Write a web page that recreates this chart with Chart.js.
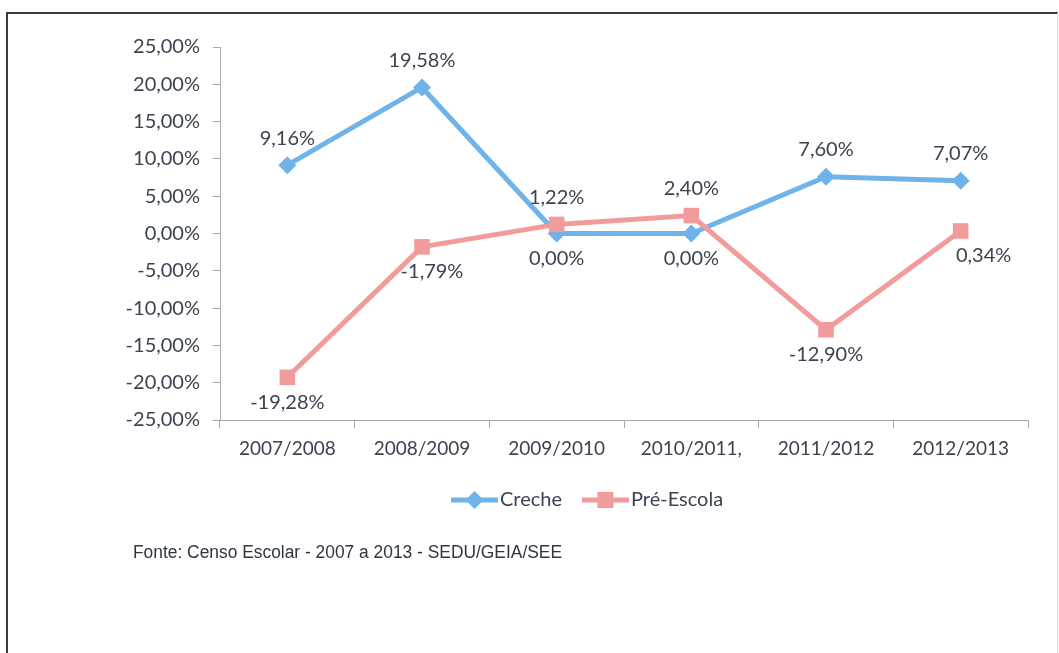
<!DOCTYPE html>
<html>
<head>
<meta charset="utf-8">
<script src="https://cdn.jsdelivr.net/npm/chart.js@4/dist/chart.umd.min.js"></script>
<style>
  html, body { margin: 0; padding: 0; background: #fff; }
  #wrap { position: relative; width: 1059px; height: 653px; overflow: hidden; }
  #chart { position: absolute; left: 0; top: 0; }
  #frame { position: absolute; left: 6px; top: 12px; width: 1049px; height: 700px;
           border-top: 2px solid #3a3a3a; border-left: 2px solid #3a3a3a; border-right: 1px solid #d8d8d8;
           pointer-events: none; }
</style>
</head>
<body>
<div id="wrap">
  <canvas id="chart" width="1059" height="653"></canvas>
  <div id="frame"></div>
</div>
<script>
/* Creche / Pré-Escola growth rates, 2007-2013 */
const categories = ['2007/2008','2008/2009','2009/2010','2010/2011,','2011/2012','2012/2013'];
const creche = [9.16, 19.58, 0.00, 0.00, 7.60, 7.07];
const preEscola = [-19.28, -1.79, 1.22, 2.40, -12.90, 0.34];
const yMin = -25, yMax = 25, yStep = 5;
const seriesNames = ['Creche', 'Pré-Escola'];
const sourceNote = 'Fonte: Censo Escolar - 2007 a 2013 - SEDU/GEIA/SEE';

const BLUE = '#6fb3e9';
const PINK = '#f19b9b';
const TXT = '#3b4350';
const AXIS = '#a8a8a8';
const FONT = 'Lato';

function pct(v){ return v.toFixed(2).replace('.', ',') + '%'; }

// where each value label sits relative to its point
const labelPlace = {
  0: ['up','up','down','down','up','up'],
  1: ['down','down','up','up','down','down']
};
const labelShift = { 1: { 1: 10, 5: 23 } };

const valueLabels = {
  id: 'valueLabels',
  afterDatasetsDraw(chart){
    const c = chart.ctx;
    c.save();
    c.font = '20px ' + FONT;
    c.fillStyle = TXT;
    c.textAlign = 'center';
    c.textBaseline = 'middle';
    chart.data.datasets.forEach((ds, di)=>{
      const meta = chart.getDatasetMeta(di);
      meta.data.forEach((pt, i)=>{
        const up = labelPlace[di][i] === 'up';
        const dx = (labelShift[di] && labelShift[di][i]) || 0;
        c.fillText(pct(ds.data[i]), pt.x + dx, pt.y + (up ? -27 : 25));
      });
    });
    c.restore();
  }
};

const legendAndNote = {
  id: 'legendAndNote',
  afterDraw(chart){
    const c = chart.ctx;
    c.save();
    const items = [
      { name: seriesNames[0], color: BLUE, style: 'diamond', x: 451 },
      { name: seriesNames[1], color: PINK, style: 'square', x: 582 }
    ];
    const y = 500;
    items.forEach(it=>{
      c.strokeStyle = it.color; c.fillStyle = it.color; c.lineWidth = 5;
      c.beginPath(); c.moveTo(it.x, y); c.lineTo(it.x + 47, y); c.stroke();
      const mx = it.x + 23.5;
      c.beginPath();
      if(it.style === 'diamond'){
        c.moveTo(mx, y - 9); c.lineTo(mx + 9, y); c.lineTo(mx, y + 9); c.lineTo(mx - 9, y); c.closePath();
      } else {
        c.rect(mx - 8, y - 8, 16, 16);
      }
      c.fill();
      c.font = '20px ' + FONT;
      c.fillStyle = TXT;
      c.textAlign = 'left'; c.textBaseline = 'middle';
      c.fillText(it.name, it.x + 49, y);
    });
    // source note, squeezed like the scan
    c.font = '18px "Liberation Sans", Arial, sans-serif';
    c.fillStyle = '#2f3640';
    const w = c.measureText(sourceNote).width;
    c.translate(133, 553);
    c.scale(429 / w, 1);
    c.textAlign = 'left'; c.textBaseline = 'middle';
    c.fillText(sourceNote, 0, 0);
    c.restore();
  }
};

new Chart(document.getElementById('chart'), {
  type: 'line',
  data: {
    labels: categories,
    datasets: [
      {
        label: seriesNames[0], data: creche, order: 1,
        borderColor: BLUE, backgroundColor: BLUE, borderWidth: 5,
        pointStyle: 'rectRot', pointRadius: 9, pointBorderWidth: 0,
        pointBackgroundColor: BLUE, tension: 0
      },
      {
        label: seriesNames[1], data: preEscola, order: 0,
        borderColor: PINK, backgroundColor: PINK, borderWidth: 5,
        pointStyle: 'rect', pointRadius: 11, pointBorderWidth: 0,
        pointBackgroundColor: PINK, tension: 0
      }
    ]
  },
  options: {
    responsive: false,
    animation: false,
    layout: { padding: { top: 47, right: 31, bottom: 193, left: 0 } },
    plugins: { legend: { display: false }, tooltip: { enabled: false } },
    scales: {
      x: {
        offset: true,
        grid: { display: true, offset: true, drawOnChartArea: false, tickLength: 8, color: AXIS },
        border: { display: true, color: AXIS, width: 1 },
        ticks: { color: TXT, font: { family: FONT, size: 19 }, padding: 9, maxRotation: 0 },
        afterFit: s => { s.height = 40; }
      },
      y: {
        min: yMin, max: yMax,
        grid: { display: true, drawOnChartArea: false, tickLength: 7, color: AXIS },
        border: { display: true, color: AXIS, width: 1 },
        ticks: { stepSize: yStep, color: TXT, font: { family: FONT, size: 20 }, padding: 13,
                 callback: v => pct(v) },
        afterFit: s => { s.width = 220; }
      }
    }
  },
  plugins: [valueLabels, legendAndNote]
});
</script>
</body>
</html>
